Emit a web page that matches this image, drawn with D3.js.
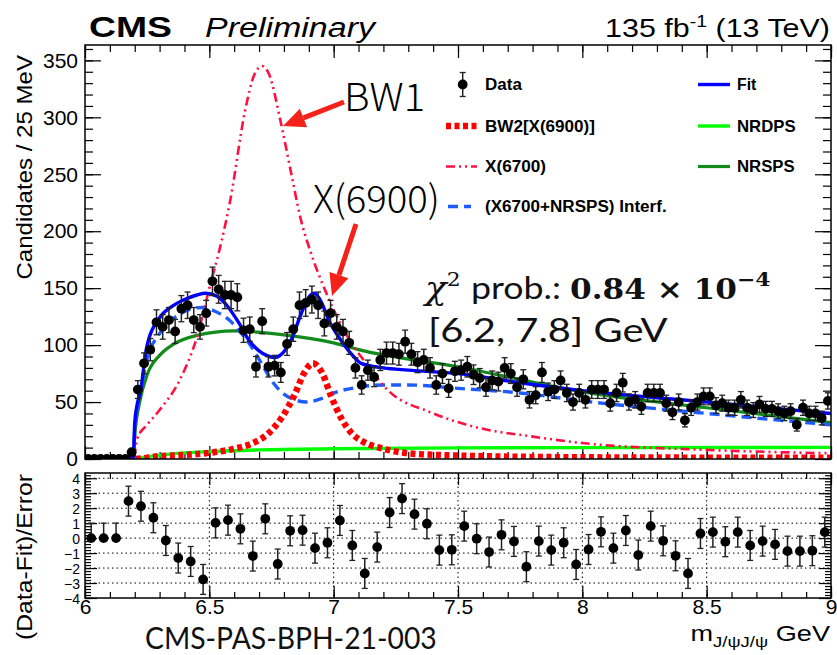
<!DOCTYPE html>
<html>
<head>
<meta charset="utf-8">
<script src="https://cdn.jsdelivr.net/npm/d3@7"></script>
<style>
  body { margin: 0; background: #fff; }
  svg { display: block; }
</style>
</head>
<body>
<div id="chart"></div>
<script>
// ---- binned data: di-J/psi candidates per 25 MeV, first bin starts at 6.0 GeV ----
const binStart = 6.0;
const binWidth = 0.025;
const counts = [
  0, 0, 0, 0, 0, 0, 0, 6, 61, 84,
  96, 120, 116, 122, 112, 132, 135, 122, 116, 128,
  156, 149, 144, 144, 142, 113, 114, 81, 121, 81,
  82, 76, 101, 114, 135, 137, 140, 135, 119, 128,
  116, 112, 102, 80, 65, 78, 72, 87, 93, 93,
  92, 103, 92, 85, 87, 80, 65, 75, 62, 77,
  78, 81, 74, 71, 63, 69, 68, 80, 75, 63,
  70, 52, 56, 76, 59, 61, 69, 58, 50, 58,
  52, 61, 61, 61, 49, 58, 67, 50, 52, 46,
  58, 58, 58, 49, 41, 50, 34, 45, 50, 55,
  55, 47, 49, 45, 45, 52, 45, 43, 48, 44,
  44, 42, 40, 42, 30, 45, 40, 40, 36, 51
];

// ---- pulls (Data-Fit)/Error in 50 MeV steps starting at 6.025 GeV ----
const pullStart = 6.025;
const pullStep = 0.05;
const pulls = [
  0.0, 0.0, 0.0, 2.47, 2.13, 1.36, -0.16, -1.33, -1.56, -2.76,
  1.02, 1.2, 0.62, -1.2, 1.29, -1.73, 0.49, 0.53, -0.67, -0.31,
  1.18, -0.49, -2.36, -0.6, 1.71, 2.64, 1.6, 0.96, -0.8, -0.78,
  0.8, -0.04, -0.93, 0.22, -0.22, -1.91, -0.2, -0.8, -0.31, -1.76,
  -0.76, 0.42, -0.67, 0.51, -1.13, 0.8, -0.18, -1.18, -2.36, 0.31,
  0.4, -0.24, 0.4, -0.49, -0.2, -0.42, -0.87, -0.87, -0.84, 0.4
];

// ---- fitted model components: (mass [GeV], candidates / 25 MeV) ----
const fitMass  = [6.0, 6.194, 6.2, 6.21, 6.222, 6.248, 6.30, 6.35, 6.40, 6.45, 6.485, 6.53, 6.57, 6.62, 6.66, 6.70, 6.73, 6.76, 6.79, 6.83, 6.87, 6.90, 6.922, 6.95, 6.98, 7.03, 7.08, 7.11, 7.2, 7.3, 7.5, 7.75, 8.0, 8.5, 9.0];
const fitYield = [0, 0, 32, 48, 58, 98, 124, 134, 140, 144, 145.5, 143, 135, 119, 104, 95, 91, 89, 92, 105, 128, 142, 145.5, 138, 122, 104, 90, 84, 80, 78, 75, 67, 60, 50, 40];

const nrspsMass  = [6.0, 6.194, 6.2, 6.22, 6.25, 6.3, 6.35, 6.45, 6.6, 6.8, 7.0, 7.1, 7.5, 8.0, 8.5, 9.0];
const nrspsYield = [0, 0, 20, 50, 74, 91, 100, 108.5, 112.5, 109, 102, 96, 81, 59, 45, 32];

const nrdpsMass  = [6.0, 6.194, 6.25, 6.35, 6.5, 6.7, 7.0, 7.5, 8.0, 9.0];
const nrdpsYield = [0, 0, 2, 4.5, 6.5, 8, 9, 9.8, 10, 10.2];

const interfMass  = [6.0, 6.194, 6.2, 6.22, 6.25, 6.3, 6.38, 6.43, 6.47, 6.52, 6.58, 6.63, 6.68, 6.72, 6.76, 6.80, 6.85, 6.89, 6.95, 7.0, 7.1, 7.2, 7.3, 7.5, 7.75, 8.0, 8.5, 9.0];
const interfYield = [0, 0, 25, 55, 88, 110, 127, 132, 133, 130, 122, 110, 95, 80, 66, 57, 51.5, 50, 53, 58, 63, 65, 65, 62, 58, 51, 40, 30];

const x6700Mass  = [6.0, 6.194, 6.21, 6.25, 6.30, 6.38, 6.45, 6.50, 6.55, 6.584, 6.644, 6.68, 6.712, 6.74, 6.785, 6.83, 6.866, 6.91, 6.97, 7.0, 7.08, 7.12, 7.22, 7.39, 7.59, 7.79, 8.0, 8.5, 9.0];
const x6700Yield = [0, 0, 18, 30, 43, 69, 107, 150, 192, 227, 306, 337, 345, 338, 298, 250, 212, 180, 146, 131, 99, 87, 60, 41, 27, 20, 14, 8, 5];

const bw2Mass  = [6.0, 6.194, 6.3, 6.4, 6.52, 6.6, 6.67, 6.74, 6.79, 6.846, 6.88, 6.917, 6.955, 6.99, 7.035, 7.075, 7.12, 7.2, 7.3, 7.5, 8.0, 9.0];
const bw2Yield = [0, 0, 2.5, 3.5, 6, 9, 13.5, 23, 36, 58, 75, 84, 75, 55, 34, 22, 15, 9, 5, 3, 1.5, 1];

// ---- axis ticks ----
const yMainMajor = [0, 50, 100, 150, 200, 250, 300, 350];
const pullMajor = [-4, -3, -2, -1, 0, 1, 2, 3, 4];
const massMajor = [6, 6.5, 7, 7.5, 8, 8.5, 9];
const massLabels = ["6", "6.5", "7", "7.5", "8", "8.5", "9"];

// ---- legend ----
const legendLeft = ["Data", "BW2[X(6900)]", "X(6700)", "(X6700+NRSPS) Interf."];
const legendRight = ["Fit", "NRDPS", "NRSPS"];

const W = 837, H = 655;
const svg = d3.select("#chart").append("svg").attr("width", W).attr("height", H);

const frame = { l: 85, r: 831, t: 45, b: 459 };
const pframe = { t: 473, b: 598 };

const x = d3.scaleLinear().domain([6, 9]).range([frame.l, frame.r]);
const y = d3.scaleLinear().domain([0, 363.5]).range([frame.b, frame.t]);
const yp = d3.scaleLinear().domain([-4, 4.35]).range([pframe.b, pframe.t]);

const sans = '"Liberation Sans", Arial, Helvetica, sans-serif';
const light = '"Noto Sans CJK SC", "Noto Sans", sans-serif';
const thin = 'Lato, "Open Sans", sans-serif';

// stretch a text horizontally (about its anchor) so that it spans the given width
function fitWidth(sel, target, base) {
  const w = sel.node().getBBox().width;
  const sx = target / w;
  const x0 = +sel.attr("x") || 0, y0 = +sel.attr("y") || 0;
  sel.attr("transform", `${base || ""} translate(${x0},${y0}) scale(${sx},1) translate(${-x0},${-y0})`);
  return sel;
}

svg.append("defs").append("clipPath").attr("id", "mainClip")
  .append("rect").attr("x", frame.l).attr("y", frame.t)
  .attr("width", frame.r - frame.l).attr("height", frame.b - frame.t);

// ---------- main panel axes ----------
function styleAxis(g) {
  g.select(".domain").remove();
  g.selectAll(".tick line").attr("stroke", "#000").attr("stroke-width", 1.2);
  g.selectAll("text").attr("font-family", sans).attr("fill", "#000");
}
const minorRange = (a, b, s) => d3.range(Math.round((b - a) / s) + 1).map(i => +(a + i * s).toFixed(4));

svg.append("g").attr("transform", `translate(${frame.l},0)`)
  .call(d3.axisLeft(y).tickValues(minorRange(0, 360, 10)).tickSize(-8).tickFormat(""))
  .call(styleAxis);
svg.append("g").attr("transform", `translate(${frame.l},0)`)
  .call(d3.axisLeft(y).tickValues(yMainMajor).tickSize(-16).tickPadding(7))
  .call(styleAxis)
  .call(g => g.selectAll("text").attr("font-size", 21));
svg.append("g").attr("transform", `translate(${frame.r},0)`)
  .call(d3.axisRight(y).tickValues(minorRange(0, 360, 10)).tickSize(-8).tickFormat(""))
  .call(styleAxis);
svg.append("g").attr("transform", `translate(${frame.r},0)`)
  .call(d3.axisRight(y).tickValues(yMainMajor).tickSize(-16).tickFormat(""))
  .call(styleAxis);
[[frame.b, d3.axisBottom], [frame.t, d3.axisTop]].forEach(([yy, ax]) => {
  svg.append("g").attr("transform", `translate(0,${yy})`)
    .call(ax(x).tickValues(minorRange(6, 9, 0.1)).tickSize(-7).tickFormat(""))
    .call(styleAxis);
  svg.append("g").attr("transform", `translate(0,${yy})`)
    .call(ax(x).tickValues(massMajor).tickSize(-13).tickFormat(""))
    .call(styleAxis);
});

// ---------- model curves ----------
const curveLayer = svg.append("g").attr("clip-path", "url(#mainClip)");
const line = d3.line().x(d => x(d[0])).y(d => y(d[1])).curve(d3.curveMonotoneX);
const pairs = (m, v) => m.map((mm, i) => [mm, v[i]]);

const styles = {
  nrdps:  { stroke: "#00ff00", width: 3.4, dash: null },
  nrsps:  { stroke: "#118c1a", width: 3.2, dash: null },
  interf: { stroke: "#1f5cff", width: 3.4, dash: "10,6" },
  x6700:  { stroke: "#ff1040", width: 2.6, dash: "9,4,2,4,2,4" },
  bw2:    { stroke: "#ff0000", width: 6.5, dash: "5,3.5" },
  fit:    { stroke: "#0000ff", width: 3.4, dash: null }
};
const series = [
  ["nrdps", pairs(nrdpsMass, nrdpsYield)],
  ["nrsps", pairs(nrspsMass, nrspsYield)],
  ["interf", pairs(interfMass, interfYield)],
  ["x6700", pairs(x6700Mass, x6700Yield)],
  ["bw2", pairs(bw2Mass, bw2Yield)],
  ["fit", pairs(fitMass, fitYield)]
];
series.forEach(([key, pts]) => {
  const s = styles[key];
  curveLayer.append("path").datum(pts).attr("d", line)
    .attr("fill", "none").attr("stroke", s.stroke).attr("stroke-width", s.width)
    .attr("stroke-dasharray", s.dash).attr("stroke-linejoin", "round");
});

// ---------- data points ----------
const dataLayer = svg.append("g").attr("clip-path", "url(#mainClip)");
const binned = counts.map((c, i) => ({ m: binStart + binWidth * (i + 0.5), n: c }));
const upper = d => d.n + (d.n > 0 ? Math.sqrt(d.n) : 1.8);
const lower = d => Math.max(0, d.n - Math.sqrt(d.n));
const pts = dataLayer.selectAll("g.pt").data(binned).join("g").attr("class", "pt");
pts.append("line")
  .attr("x1", d => x(d.m)).attr("x2", d => x(d.m))
  .attr("y1", d => y(upper(d))).attr("y2", d => y(lower(d)))
  .attr("stroke", "#222").attr("stroke-width", 1.5);
pts.append("line")
  .attr("x1", d => x(d.m) - 3).attr("x2", d => x(d.m) + 3)
  .attr("y1", d => y(upper(d))).attr("y2", d => y(upper(d)))
  .attr("stroke", "#222").attr("stroke-width", 1.3);
pts.filter(d => d.n > 0).append("line")
  .attr("x1", d => x(d.m) - 3).attr("x2", d => x(d.m) + 3)
  .attr("y1", d => y(lower(d))).attr("y2", d => y(lower(d)))
  .attr("stroke", "#222").attr("stroke-width", 1.3);
pts.append("circle").attr("cx", d => x(d.m)).attr("cy", d => y(d.n)).attr("r", 4.9).attr("fill", "#000");

svg.append("rect").attr("x", frame.l).attr("y", frame.t)
  .attr("width", frame.r - frame.l).attr("height", frame.b - frame.t)
  .attr("fill", "none").attr("stroke", "#000").attr("stroke-width", 1.5);

// ---------- legend ----------
const lg = svg.append("g").attr("font-family", sans).attr("font-weight", "bold").attr("font-size", 16);
const rowY = [84.5, 126, 166.5, 206.5];
const leftWidths = [37, 110, 61, 182];
const rightWidths = [20, 59, 58];
lg.append("line").attr("x1", 462.7).attr("x2", 462.7).attr("y1", rowY[0] - 12).attr("y2", rowY[0] + 12).attr("stroke", "#222").attr("stroke-width", 1.5);
[-12, 12].forEach(o => lg.append("line").attr("x1", 459.7).attr("x2", 465.7).attr("y1", rowY[0] + o).attr("y2", rowY[0] + o).attr("stroke", "#222").attr("stroke-width", 1.3));
lg.append("circle").attr("cx", 462.7).attr("cy", rowY[0]).attr("r", 4.9).attr("fill", "#000");
const leftKeys = [null, "bw2", "x6700", "interf"];
leftKeys.forEach((k, i) => {
  if (k) {
    const s = styles[k];
    lg.append("line").attr("x1", k === "interf" ? 448 : 446).attr("x2", k === "interf" ? 471 : 477)
      .attr("y1", rowY[i]).attr("y2", rowY[i])
      .attr("stroke", s.stroke).attr("stroke-width", s.width).attr("stroke-dasharray", s.dash);
  }
  fitWidth(lg.append("text").attr("x", 485).attr("y", rowY[i] + 6).text(legendLeft[i]), leftWidths[i]);
});
["fit", "nrdps", "nrsps"].forEach((k, i) => {
  const s = styles[k];
  lg.append("line").attr("x1", 698).attr("x2", 730).attr("y1", rowY[i]).attr("y2", rowY[i])
    .attr("stroke", s.stroke).attr("stroke-width", s.width);
  fitWidth(lg.append("text").attr("x", 737).attr("y", rowY[i] + 6).text(legendRight[i]), rightWidths[i]);
});

// ---------- annotations ----------
const red = "#f5221b";
function arrow(x1, y1, x2, y2) {
  const a = Math.atan2(y2 - y1, x2 - x1), L = 22, Wd = 10;
  const bx = x2 - L * Math.cos(a), by = y2 - L * Math.sin(a);
  svg.append("line").attr("x1", x1).attr("y1", y1).attr("x2", bx).attr("y2", by)
    .attr("stroke", red).attr("stroke-width", 5);
  const p = [[x2, y2],
    [bx + Wd * Math.sin(a), by - Wd * Math.cos(a)],
    [bx - Wd * Math.sin(a), by + Wd * Math.cos(a)]];
  svg.append("path").attr("d", "M" + p.map(q => q.join(",")).join("L") + "Z").attr("fill", red);
}
arrow(344, 102, 283, 126);
arrow(356, 224, 332, 296);

fitWidth(svg.append("text").attr("x", 344).attr("y", 111).attr("font-family", light).attr("font-weight", 300)
  .attr("font-size", 38).text("BW1"), 81);
fitWidth(svg.append("text").attr("x", 313).attr("y", 213).attr("font-family", light).attr("font-weight", 300)
  .attr("font-size", 38).text("X(6900)"), 127);

const chi = svg.append("text").attr("x", 425).attr("y", 299).attr("font-size", 31).attr("fill", "#111");
chi.append("tspan").attr("font-family", '"DejaVu Serif", serif').attr("font-style", "italic").text("χ");
chi.append("tspan").attr("font-family", '"DejaVu Serif", serif').attr("font-size", 19).attr("dy", -13).text("2");
chi.append("tspan").attr("font-family", thin).attr("dy", 13).attr("dx", 9).text("prob.: ");
chi.append("tspan").attr("font-family", '"DejaVu Serif", serif').attr("font-weight", "bold").attr("font-size", 27).text("0.84 × 10");
chi.append("tspan").attr("font-family", '"DejaVu Serif", serif').attr("font-weight", "bold")
  .attr("font-size", 19).attr("dy", -13).text("−4");
fitWidth(chi, 348);
fitWidth(svg.append("text").attr("x", 428).attr("y", 342).attr("font-family", thin).attr("fill", "#111")
  .attr("font-size", 32).text("[6.2, 7.8] GeV"), 240);

// header
fitWidth(svg.append("text").attr("x", 89).attr("y", 37).attr("font-family", sans).attr("font-weight", "bold")
  .attr("font-size", 29).text("CMS"), 83);
fitWidth(svg.append("text").attr("x", 205).attr("y", 37).attr("font-family", sans).attr("font-style", "italic")
  .attr("font-size", 27).text("Preliminary"), 172);
const lumi = svg.append("text").attr("x", 830).attr("y", 37).attr("text-anchor", "end")
  .attr("font-family", sans).attr("font-size", 25);
lumi.append("tspan").text("135 fb");
lumi.append("tspan").attr("font-size", 16).attr("dy", -10).text("-1");
lumi.append("tspan").attr("dy", 10).text(" (13 TeV)");
fitWidth(lumi, 225);

fitWidth(svg.append("text").attr("x", 0).attr("y", 0).attr("text-anchor", "end")
  .attr("font-family", sans).attr("font-size", 22).text("Candidates / 25 MeV"), 225, "translate(32,55) rotate(-90)");

// ---------- pull panel ----------
svg.append("g").selectAll("line").data([-3, -2, -1, 0, 1, 2, 3, 4]).join("line")
  .attr("x1", frame.l).attr("x2", frame.r).attr("y1", d => yp(d)).attr("y2", d => yp(d))
  .attr("stroke", "#000").attr("stroke-width", 1).attr("stroke-dasharray", "1.5,3");
svg.append("g").selectAll("line").data([6.5, 7, 7.5, 8, 8.5]).join("line")
  .attr("x1", d => x(d)).attr("x2", d => x(d)).attr("y1", pframe.t).attr("y2", pframe.b)
  .attr("stroke", "#000").attr("stroke-width", 1).attr("stroke-dasharray", "1.5,3");

svg.append("g").attr("transform", `translate(${frame.l},0)`)
  .call(d3.axisLeft(yp).tickValues(minorRange(-4, 4.2, 0.2)).tickSize(-6).tickFormat(""))
  .call(styleAxis);
svg.append("g").attr("transform", `translate(${frame.l},0)`)
  .call(d3.axisLeft(yp).tickValues(pullMajor).tickSize(-12).tickPadding(5).tickFormat(d => d < 0 ? "\u2212" + (-d) : d))
  .call(styleAxis)
  .call(g => g.selectAll("text").attr("font-size", 14).attr("dy", "0.36em"));
svg.append("g").attr("transform", `translate(${frame.r},0)`)
  .call(d3.axisRight(yp).tickValues(minorRange(-4, 4.2, 0.2)).tickSize(-6).tickFormat(""))
  .call(styleAxis);
svg.append("g").attr("transform", `translate(${frame.r},0)`)
  .call(d3.axisRight(yp).tickValues(pullMajor).tickSize(-12).tickFormat(""))
  .call(styleAxis);
svg.append("g").attr("transform", `translate(0,${pframe.t})`)
  .call(d3.axisTop(x).tickValues(minorRange(6, 9, 0.1)).tickSize(-6).tickFormat(""))
  .call(styleAxis);
svg.append("g").attr("transform", `translate(0,${pframe.t})`)
  .call(d3.axisTop(x).tickValues(massMajor).tickSize(-12).tickFormat(""))
  .call(styleAxis);
svg.append("g").attr("transform", `translate(0,${pframe.b})`)
  .call(d3.axisBottom(x).tickValues(minorRange(6, 9, 0.1)).tickSize(-6).tickFormat(""))
  .call(styleAxis);
svg.append("g").attr("transform", `translate(0,${pframe.b})`)
  .call(d3.axisBottom(x).tickValues(massMajor).tickSize(-12).tickPadding(1).tickFormat((d, i) => massLabels[i]))
  .call(styleAxis)
  .call(g => g.selectAll("text").attr("font-size", 21));

const pullPts = svg.append("g").selectAll("g").data(pulls.map((p, i) => ({ m: pullStart + pullStep * i, p })))
  .join("g");
pullPts.append("line").attr("x1", d => x(d.m)).attr("x2", d => x(d.m))
  .attr("y1", d => yp(d.p + 1)).attr("y2", d => yp(d.p === 0 ? 0 : d.p - 1))
  .attr("stroke", "#222").attr("stroke-width", 1.5);
pullPts.append("line").attr("x1", d => x(d.m) - 3).attr("x2", d => x(d.m) + 3)
  .attr("y1", d => yp(d.p + 1)).attr("y2", d => yp(d.p + 1)).attr("stroke", "#222").attr("stroke-width", 1.3);
pullPts.filter(d => d.p !== 0).append("line").attr("x1", d => x(d.m) - 3).attr("x2", d => x(d.m) + 3)
  .attr("y1", d => yp(d.p - 1)).attr("y2", d => yp(d.p - 1)).attr("stroke", "#222").attr("stroke-width", 1.3);
pullPts.append("circle").attr("cx", d => x(d.m)).attr("cy", d => yp(d.p)).attr("r", 4.9).attr("fill", "#000");

svg.append("rect").attr("x", frame.l).attr("y", pframe.t)
  .attr("width", frame.r - frame.l).attr("height", pframe.b - pframe.t)
  .attr("fill", "none").attr("stroke", "#000").attr("stroke-width", 1.5);

fitWidth(svg.append("text").attr("x", 0).attr("y", 0).attr("text-anchor", "end")
  .attr("font-family", sans).attr("font-size", 22).text("(Data-Fit)/Error"), 166, "translate(32,474) rotate(-90)");

// footer
fitWidth(svg.append("text").attr("x", 145).attr("y", 649).attr("font-family", thin).attr("fill", "#111")
  .attr("font-size", 30).text("CMS-PAS-BPH-21-003"), 292);
const mt = svg.append("text").attr("x", 830).attr("y", 641).attr("text-anchor", "end")
  .attr("font-family", sans).attr("font-size", 22);
mt.append("tspan").text("m");
mt.append("tspan").attr("font-size", 15).attr("dy", 6).text("J/ψJ/ψ");
mt.append("tspan").attr("dy", -6).text(" GeV");
fitWidth(mt, 140);
</script>
</body>
</html>
